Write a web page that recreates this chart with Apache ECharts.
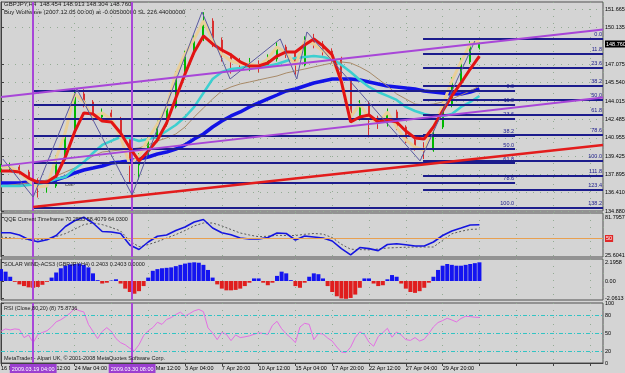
<!DOCTYPE html>
<html>
<head>
<meta charset="utf-8">
<script src="https://cdn.jsdelivr.net/npm/echarts@6/dist/echarts.min.js"></script>
<style>
  html, body { margin: 0; padding: 0; background: #d4d4d4; }
  #c { width: 625px; height: 373px; }
</style>
</head>
<body>
<div id="c"></div>
<script>
// x runs in steps of 4 H4 bars, step 0 = 16 Mar 20:00
const timeLabels = ['16 Mar 20:00', '19 Mar 12:00', '24 Mar 04:00', '26 Mar 20:00', '31 Mar 12:00',
  '3 Apr 04:00', '7 Apr 20:00', '10 Apr 12:00', '15 Apr 04:00', '17 Apr 20:00', '22 Apr 12:00',
  '27 Apr 04:00', '29 Apr 20:00'];
const priceTicks = [134.88, 136.41, 137.895, 139.425, 140.955, 142.485, 144.015, 145.54, 147.075, 150.135, 151.665];
const lastClose = 148.76;

const candleOpen = [138.30,138.54,138.54,138.12,137.37,136.88,136.96,139.29,141.45,144.61,143.94,142.69,143.03,142.53,141.03,138.70,139.45,140.87,142.11,143.53,146.27,147.93,149.18,150.67,149.09,147.93,147.35,147.10,147.10,146.93,147.52,148.51,148.01,147.02,149.01,148.76,148.18,147.52,145.69,142.69,143.77,142.61,142.20,143.11,141.86,140.78,140.20,139.95,141.86,143.69,145.69,147.27,148.45];
const candleClose = [138.54,138.54,138.12,137.37,136.88,136.96,139.29,141.45,144.61,143.94,142.69,143.03,142.53,141.03,138.70,139.45,140.87,142.11,143.53,146.27,147.93,149.18,150.67,149.09,147.93,147.35,147.10,147.10,146.93,147.52,148.51,148.01,147.02,149.01,148.76,148.18,147.52,145.69,142.69,143.77,142.61,142.20,143.11,141.86,140.78,140.20,139.95,141.86,143.69,145.69,147.27,148.76,148.76];
const candleLow = [138.10,138.20,137.90,137.10,136.00,136.40,136.80,139.10,141.30,143.50,142.40,142.50,142.20,140.80,137.20,137.50,139.20,140.60,141.90,143.40,146.00,147.70,149.00,148.50,147.30,146.30,146.70,146.50,146.40,146.80,147.30,147.60,146.20,146.90,148.40,147.80,147.20,145.40,142.20,142.40,141.00,141.70,141.90,141.60,140.50,139.90,139.20,139.80,141.70,143.50,145.50,147.10,148.30];
const candleHigh = [138.80,138.90,138.70,138.30,137.60,137.40,139.50,141.70,145.00,145.00,144.10,143.40,143.30,142.70,141.20,139.70,141.10,142.40,143.80,146.50,148.20,149.50,151.40,150.90,149.30,148.00,147.60,147.60,147.40,147.90,148.90,148.70,148.20,149.40,149.60,149.00,148.40,147.70,145.80,144.10,144.00,142.80,143.40,143.30,142.00,140.90,140.60,142.10,144.00,146.00,147.60,149.00,148.91];

const fastMa = [138.54,138.54,138.12,137.37,136.88,136.96,139.29,141.45,144.61,143.94,142.69,143.03,142.53,141.03,138.70,139.45,140.87,142.11,143.53,146.27,147.93,149.18,150.67,149.09,147.93,147.35,147.10,147.10,146.93,147.52,148.51,148.01,147.02,149.01,148.76,148.18,147.52,145.69,142.69,143.77,142.61,142.20,143.11,141.86,140.78,140.20,139.95,141.86,143.69,145.69,147.27,148.76,149.01];
const redMa = [138.21,138.21,138.12,137.62,137.29,137.29,137.79,139.37,141.45,143.03,142.94,142.36,142.28,141.36,140.12,139.04,139.87,140.78,142.20,144.27,146.27,148.10,149.43,148.76,148.26,147.85,147.27,146.93,146.93,147.18,147.76,148.10,148.10,148.68,149.18,148.60,147.85,145.60,142.28,142.69,142.86,142.28,142.44,142.28,141.53,140.95,140.87,141.86,143.19,144.44,145.52,146.68,147.76];
const cyanMa = [136.96,136.96,136.96,137.04,137.12,137.29,137.54,137.71,138.37,138.95,139.70,140.37,140.70,141.03,140.95,140.70,140.87,141.03,141.53,142.03,142.69,143.53,144.69,145.85,146.43,146.68,146.77,146.93,146.93,146.93,147.10,147.35,147.60,147.68,147.76,147.68,147.52,147.02,146.43,145.77,145.19,144.77,144.44,144.11,143.53,143.19,142.94,142.78,142.78,142.94,143.53,143.94,144.44];
const brownMa = [136.88,137.04,137.12,137.21,137.29,137.46,137.79,138.12,138.45,138.95,139.45,139.78,139.87,139.95,140.03,140.12,140.37,140.70,140.95,141.28,141.86,142.69,143.44,144.19,144.86,145.19,145.44,145.60,145.77,145.94,146.10,146.35,146.52,146.68,146.85,147.02,147.18,147.27,147.18,146.85,146.43,145.85,145.27,144.61,144.19,143.77,143.69,143.77,143.94,144.19,144.52,144.86,145.27];
const blueMa = [137.21,137.21,137.21,137.29,137.29,137.29,137.46,137.71,138.04,138.29,138.45,138.62,138.87,138.95,139.04,139.20,139.37,139.62,139.78,140.03,140.37,140.87,141.28,141.86,142.36,142.78,143.11,143.53,143.86,144.19,144.52,144.86,145.02,145.27,145.52,145.69,145.85,145.85,145.85,145.77,145.60,145.44,145.27,145.19,145.10,145.02,144.86,144.77,144.69,144.61,144.61,144.77,145.02];

const zigzagSteps = [0.2, 3.5, 8.25, 14.25, 21.85, 24.9, 30.35, 32.15, 33.25, 45.55, 51.5];
const zigzagPrices = [139.2, 136.04, 145.02, 136.21, 151.42, 145.85, 149.18, 145.85, 149.76, 139.04, 149.01];

// trend lines: price at their first and last step
const upperChannelSteps = [0, 65.43];
const upperChannel = [144.36, 149.97];
const lowerChannelSteps = [0, 65.43];
const lowerChannel = [138.63, 144.31];
const supportSteps = [3.5, 65.43];
const supportLine = [135.21, 140.36];

const fibLeftLevels = [0, 11.8, 23.6, 38.2, 50, 61.8, 78.6, 100];
const fibLeftRange = [144.855, 135.17];
const fibLeftSteps = [3.5, 55.87];
const fibRightLevels = [0, 11.8, 23.6, 38.2, 50, 61.8, 78.6, 100, 111.8, 123.4, 138.2];
const fibRightRange = [149.18, 139.04];
const fibRightSteps = [45.87, 65.43];

const markerSteps = [3.5, 14.25];
const markerLabels = ['2009.03.19 04:00', '2009.03.30 08:00'];

const qqeFast = [58.58,58.58,55.18,48.52,45.12,48.23,54.44,67.75,76.33,81.50,72.93,60.35,59.61,57.40,40.39,33.73,44.82,53.26,55.18,61.83,67.01,74.40,78.10,65.53,58.43,55.62,50.74,49.26,49.26,51.48,58.14,57.40,47.78,53.70,52.22,50.74,46.30,35.06,25.80,36.69,35.06,32.11,41.13,42.16,40.68,38.91,38.91,44.82,54.44,61.09,65.53,70.00,70.26];
const qqeSlow = [52.22,51.04,49.85,48.67,48.08,48.97,52.96,57.25,63.76,70.56,72.93,70.56,66.27,61.09,46.30,37.87,40.98,45.42,50.59,55.77,61.83,68.64,72.93,72.93,68.64,63.31,58.14,55.18,52.66,53.40,54.73,54.44,54.44,56.21,57.40,56.51,51.33,41.42,34.18,33.58,33.14,34.47,35.95,36.54,37.13,37.43,37.43,37.43,47.34,56.95,60.65,63.46,64.03];
const qqeLevel = 50;
const qqeTicks = [81.7957, 25.6041];

// half-step resolution (2 bars)
const solarVals = [1.4,1.1,0.5,-0.1,-0.4,-0.6,-0.75,-0.8,-0.7,-0.45,
  -0.1,0.4,1.0,1.5,1.8,1.95,2.0,2.05,1.9,1.6,
  0.9,0.1,-0.3,-0.2,0.05,0.2,-0.3,-0.9,-1.3,-1.5,
  -1.2,-0.6,0.4,1.2,1.4,1.5,1.55,1.6,1.75,1.9,
  2.05,2.15,2.2,2.15,1.9,1.3,0.4,-0.4,-0.9,-1.1,
  -1.1,-1.05,-0.9,-0.6,-0.2,0.3,0.3,-0.2,-0.5,-0.2,
  0.6,1.1,0.9,0.1,-0.6,-0.8,-0.2,0.5,0.9,0.8,
  0.3,-0.6,-1.3,-1.8,-2.05,-2.1,-2.0,-1.6,-0.8,0.3,
  0.3,-0.3,-0.6,-0.5,0.2,0.7,0.5,-0.3,-0.9,-1.3,
  -1.4,-1.2,-0.8,-0.2,0.5,1.3,1.8,2.0,1.9,1.8,
  1.8,1.9,2.0,2.1,2.2];
const solarTicks = [2.1958, 0, -2.0613];

const rsiVals = [53.05,56.78,55.08,56.78,55.93,42.37,46.61,33.90,47.46,50.85,
  53.73,60.17,68.64,72.03,77.12,83.05,90.68,87.29,85.08,64.41,
  52.54,40.68,52.54,58.98,52.54,40.68,33.90,30.34,24.58,20.34,
  30.51,45.76,53.73,58.98,67.80,64.41,72.54,75.76,80.85,84.75,
  77.97,82.37,86.95,89.32,85.59,58.47,50.00,38.98,50.85,47.80,
  37.29,46.78,42.37,43.56,45.25,47.80,50.17,49.32,47.63,62.71,
  69.49,57.12,48.47,41.86,33.90,60.17,66.10,64.41,38.98,49.15,
  48.31,41.69,36.44,26.61,18.14,17.46,26.44,42.37,51.86,47.46,
  34.58,27.97,44.07,50.68,57.80,43.05,51.69,46.61,38.98,37.63,
  42.37,36.61,39.66,49.15,60.17,67.46,70.68,74.58,71.69,68.47,
  74.24,77.97,77.29,76.27,75.87];
const rsiLevels = [80, 50, 20];
const rsiTicks = [100, 80, 50, 20, 0];

const FONT = '"Liberation Sans", Arial, sans-serif';
const X_MAX = 65.43;
const dotted = { show: true, lineStyle: { color: '#93ab93', width: 1, type: [1, 6] } };
const small = { fontSize: 5.5, fontFamily: FONT, color: '#000' };

const chart = echarts.init(document.getElementById('c'));

function xAxisFor(gridIndex, withLabels) {
  return {
    type: 'value', gridIndex, min: 0, max: X_MAX, interval: 4,
    axisLine: { show: withLabels, lineStyle: { color: '#404040' } },
    axisTick: { show: withLabels, length: 3, lineStyle: { color: '#404040' } },
    axisLabel: Object.assign({
      show: withLabels, align: 'left', margin: 2, showMaxLabel: false,
      formatter: v => timeLabels[v / 4] || ''
    }, small),
    splitLine: dotted
  };
}

function yAxisFor(gridIndex, min, max, ticks, fmt, split) {
  return {
    type: 'value', gridIndex, position: 'right', min, max,
    axisLine: { show: true, lineStyle: { color: '#404040' } },
    axisTick: { show: true, length: 3, customValues: ticks, lineStyle: { color: '#404040' } },
    axisLabel: Object.assign({ customValues: ticks, formatter: fmt, margin: 2 }, small),
    splitLine: split ? dotted : { show: false }
  };
}

function boxAxis(gridIndex, min, max, value, fmt, bg) {
  return {
    type: 'value', gridIndex, position: 'right', min, max, offset: 0,
    axisLine: { show: false }, axisTick: { show: false }, splitLine: { show: false },
    axisLabel: Object.assign({}, small, {
      customValues: [value], formatter: fmt, margin: 2,
      color: '#fff', backgroundColor: bg, padding: [1, 1, 0, 1]
    })
  };
}

// step = x distance between two consecutive values (1 = four bars)
function line(vals, step, color, width, z, xi, yi, extra) {
  return Object.assign({
    type: 'line', xAxisIndex: xi, yAxisIndex: yi, symbol: 'none', z, silent: true,
    data: vals.map((v, i) => [i * step, v]),
    lineStyle: { color, width }
  }, extra || {});
}

function twoPoint(steps, prices, color, width, z) {
  return {
    type: 'line', xAxisIndex: 0, yAxisIndex: 0, symbol: 'none', z, silent: true,
    data: steps.map((s, i) => [s, prices[i]]),
    lineStyle: { color, width }
  };
}

function fibLines(levels, range, steps) {
  return levels.map(l => {
    const p = range[0] + (range[1] - range[0]) * l / 100;
    return [{ coord: [steps[0], p], label: { formatter: l.toFixed(1) } }, { coord: [steps[1], p] }];
  });
}

function markers(xi, yi, withLabels) {
  return {
    type: 'line', xAxisIndex: xi, yAxisIndex: yi, data: [], z: 7, silent: true,
    markLine: {
      silent: true, animation: false, symbol: ['none', 'none'],
      lineStyle: { color: '#a846d8', width: 2, type: 'solid' },
      label: withLabels
        ? Object.assign({}, small, { show: true, position: 'start', distance: 1, color: '#fff',
            backgroundColor: '#9b3fd0', padding: [2, 2, 1, 2] })
        : { show: false },
      data: markerSteps.map((s, i) => ({ xAxis: s, label: { formatter: markerLabels[i] } }))
    }
  };
}

const gridBase = { left: 1, width: 602, show: true, borderColor: '#505050', borderWidth: 1,
  backgroundColor: 'transparent', outerBoundsMode: 'none', containLabel: false };

const option = {
  animation: false,
  backgroundColor: '#d4d4d4',
  grid: [
    Object.assign({ top: 2, height: 209 }, gridBase),
    Object.assign({ top: 213, height: 44 }, gridBase),
    Object.assign({ top: 259, height: 41 }, gridBase),
    Object.assign({ top: 303, height: 60 }, gridBase)
  ],
  xAxis: [xAxisFor(0, false), xAxisFor(1, false), xAxisFor(2, false), xAxisFor(3, true)],
  yAxis: [
    yAxisFor(0, 134.88, 152.25, priceTicks, v => v.toFixed(3), true),
    boxAxis(0, 134.88, 152.25, lastClose, v => v.toFixed(3), '#000'),
    yAxisFor(1, 22.64, 87.72, qqeTicks, v => v.toFixed(4)),
    boxAxis(1, 22.64, 87.72, qqeLevel, v => String(v), '#e02828'),
    yAxisFor(2, -2.24, 2.59, solarTicks, v => (v === 0 ? '0.00' : v.toFixed(4))),
    yAxisFor(3, 0, 100, rsiTicks, v => String(v))
  ],
  graphic: [
    { type: 'text', left: 4, top: 1, style: { text: 'GBPJPY,H4  148.454 148.913 148.304 148.760', font: '6px ' + FONT, fill: '#1a1a1a' } },
    { type: 'text', left: 4, top: 9, style: { text: 'Buy Wolfwave (2007.12.05 00:00) at -0.00500000 SL 226.44000000', font: '6px ' + FONT, fill: '#1a1a1a' } },
    { type: 'text', left: 65, top: 181, style: { text: 'Bar', font: '6px ' + FONT, fill: '#505050' } },
    { type: 'text', left: 4, top: 216, z: 20, style: { text: 'QQE Current Timeframe 70.2553 58.4079 64.0300', font: '5.5px ' + FONT, fill: '#1a1a1a' } },
    { type: 'text', left: 4, top: 261, z: 20, style: { text: 'SOLAR WIND-ACS3 (GBPJPY,H4) 0.2403 0.2403 0.0000', font: '5.5px ' + FONT, fill: '#1a1a1a' } },
    { type: 'text', left: 4, top: 305, z: 20, style: { text: 'RSI (Close,80,20) (8) 75.8736', font: '5.5px ' + FONT, fill: '#1a1a1a' } },
    { type: 'text', left: 4, top: 355, z: 20, style: { text: 'MetaTrader - Alpari UK, \u00a9 2001-2008 MetaQuotes Software Corp.', font: '5.5px ' + FONT, fill: '#1a1a1a' } }
  ],
  series: [
    // fibonacci levels
    {
      type: 'line', xAxisIndex: 0, yAxisIndex: 0, data: [], z: 1, silent: true,
      markLine: {
        silent: true, animation: false, symbol: ['none', 'none'],
        lineStyle: { color: '#1c1c8c', width: 2, type: 'solid' },
        label: Object.assign({}, small, { show: true, position: 'insideEndTop', distance: 1, color: '#1c1c8c' }),
        data: fibLines(fibLeftLevels, fibLeftRange, fibLeftSteps)
          .concat(fibLines(fibRightLevels, fibRightRange, fibRightSteps))
      }
    },
    {
      type: 'candlestick', xAxisIndex: 0, yAxisIndex: 0, z: 2, silent: true, barWidth: 1.5,
      dimensions: ['step', 'open', 'close', 'low', 'high'],
      encode: { x: 0, y: [1, 2, 3, 4] },
      data: candleOpen.map((o, i) => [i, o, candleClose[i], candleLow[i], candleHigh[i]]),
      itemStyle: { color: '#00b800', color0: '#d83030', borderColor: '#00b800', borderColor0: '#d83030', borderWidth: 1 }
    },
    line(blueMa, 1, '#1212e6', 3.5, 3, 0, 0),
    line(brownMa, 1, '#a88a68', 1, 3, 0, 0),
    line(cyanMa, 1, '#3ccfd0', 2.5, 3, 0, 0),
    line(fastMa, 1, '#e9cf98', 3, 4, 0, 0),
    line(redMa, 1, '#e31414', 3, 5, 0, 0),
    {
      type: 'line', xAxisIndex: 0, yAxisIndex: 0, symbol: 'none', z: 6, silent: true,
      data: zigzagSteps.map((s, i) => [s, zigzagPrices[i]]),
      lineStyle: { color: '#5a5aa0', width: 1 }
    },
    twoPoint(upperChannelSteps, upperChannel, '#a846d8', 2, 6),
    twoPoint(lowerChannelSteps, lowerChannel, '#a846d8', 2, 6),
    twoPoint(supportSteps, supportLine, '#e31c1c', 2.5, 6),
    markers(0, 0, false),

    // QQE
    line(qqeSlow, 1, '#5a5a5a', 1, 3, 1, 2, { lineStyle: { color: '#5a5a5a', width: 1, type: [2, 2] } }),
    line(qqeFast, 1, '#1515e0', 1.6, 4, 1, 2, {
      markLine: {
        silent: true, animation: false, symbol: ['none', 'none'],
        lineStyle: { color: '#e8a050', width: 1, type: 'solid' }, label: { show: false },
        data: [{ yAxis: qqeLevel }]
      }
    }),
    markers(1, 2, false),

    // SOLAR WIND histogram
    {
      type: 'bar', xAxisIndex: 2, yAxisIndex: 4, z: 3, silent: true, barWidth: 4,
      data: solarVals.map((v, i) => [i / 2, v]),
      itemStyle: { color: p => (p.value[1] >= 0 ? '#1414f0' : '#e01e1e') }
    },
    markers(2, 4, false),

    // RSI
    line(rsiVals, 0.5, '#e46fe4', 1, 4, 3, 5, {
      markLine: {
        silent: true, animation: false, symbol: ['none', 'none'],
        lineStyle: { color: '#32c4c4', width: 1, type: [4, 2, 1, 2] }, label: { show: false },
        data: rsiLevels.map(l => ({ yAxis: l }))
      }
    }),
    markers(3, 5, true)
  ]
};

chart.setOption(option);
</script>
</body>
</html>
